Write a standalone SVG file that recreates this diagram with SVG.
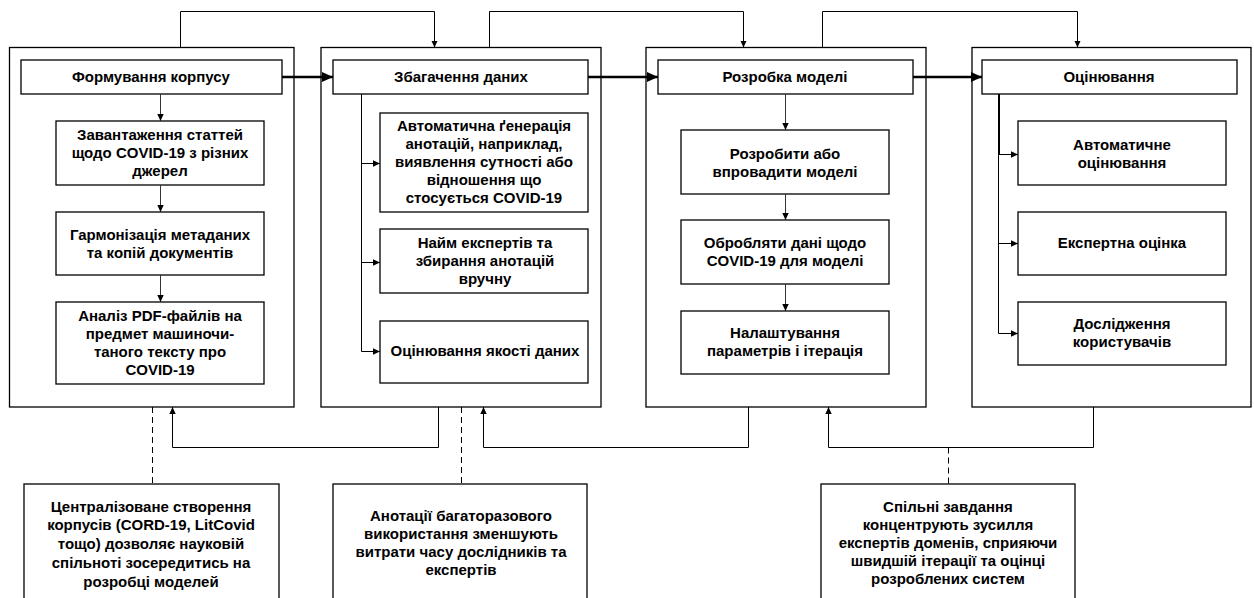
<svg xmlns="http://www.w3.org/2000/svg" width="1254" height="598" viewBox="0 0 1254 598">
<defs>
<marker id="a" markerUnits="userSpaceOnUse" markerWidth="8" markerHeight="8" refX="7" refY="4" orient="auto"><path d="M0,0.8 L7,4 L0,7.2 Z" fill="#000"/></marker>
<marker id="b" markerUnits="userSpaceOnUse" markerWidth="12" markerHeight="12" refX="11" refY="6" orient="auto"><path d="M0,1 L11,6 L0,11 Z" fill="#000"/></marker>
</defs>
<style>
rect{fill:#fff;stroke:#000;stroke-width:1.3}
text{font-family:"Liberation Sans",Arial,sans-serif;font-weight:bold;font-size:15px;text-anchor:middle;fill:#000}
.c{fill:none;stroke:#000;stroke-width:1}
.g{fill:none;stroke:#333;stroke-width:1}
.t{fill:none;stroke:#000;stroke-width:2.5}
.d{fill:none;stroke:#000;stroke-width:1;stroke-dasharray:6,4}
</style>
<g id="stage1">
<rect x="9.5" y="47.5" width="284.5" height="359.5"/>
<rect x="21" y="60" width="261" height="34"/>
<text x="151" y="82">Формування корпусу</text>
</g>
<g id="s1a"><rect x="56" y="121" width="208" height="64"/>
<text x="160" y="140">Завантаження статтей</text><text x="160" y="158">щодо COVID-19 з різних</text><text x="160" y="176">джерел</text></g>
<g id="s1b"><rect x="56" y="212" width="208" height="63"/>
<text x="160" y="240">Гармонізація метаданих</text><text x="160" y="258">та копій документів</text></g>
<g id="s1c"><rect x="56" y="302" width="208" height="82"/>
<text x="160" y="321">Аналіз PDF-файлів на</text><text x="160" y="339">предмет машиночи-</text><text x="160" y="357">таного тексту про</text><text x="160" y="375">COVID-19</text></g>

<g id="stage2">
<rect x="321" y="47.5" width="280" height="359.5"/>
<rect x="333" y="60" width="255" height="34"/>
<text x="461" y="82">Збагачення даних</text>
</g>
<g id="s2a"><rect x="380" y="113" width="208" height="99"/>
<text x="484" y="131">Автоматична ґенерація</text><text x="484" y="149">анотацій, наприклад,</text><text x="484" y="167">виявлення сутності або</text><text x="484" y="185">відношення що</text><text x="484" y="203">стосується COVID-19</text></g>
<g id="s2b"><rect x="380" y="229" width="208" height="64"/>
<text x="485" y="248">Найм експертів та</text><text x="485" y="266">збирання анотацій</text><text x="485" y="284">вручну</text></g>
<g id="s2c"><rect x="380" y="321" width="208" height="62"/>
<text x="485" y="356">Оцінювання якості даних</text></g>

<g id="stage3">
<rect x="646" y="47.5" width="280" height="359.5"/>
<rect x="658" y="60" width="255" height="34"/>
<text x="785" y="82">Розробка моделі</text>
</g>
<g id="s3a"><rect x="681" y="130" width="208" height="64"/>
<text x="785" y="159">Розробити або</text><text x="785" y="177">впровадити моделі</text></g>
<g id="s3b"><rect x="681" y="220" width="208" height="64"/>
<text x="785" y="248">Обробляти дані щодо</text><text x="785" y="266">COVID-19 для моделі</text></g>
<g id="s3c"><rect x="681" y="311" width="208" height="63"/>
<text x="785" y="338">Налаштування</text><text x="785" y="356">параметрів і ітерація</text></g>

<g id="stage4">
<rect x="972" y="47.5" width="279" height="359.5"/>
<rect x="982" y="60" width="255" height="34"/>
<text x="1109" y="82">Оцінювання</text>
</g>
<g id="s4a"><rect x="1018" y="121" width="208" height="64"/>
<text x="1122" y="150">Автоматичне</text><text x="1122" y="168">оцінювання</text></g>
<g id="s4b"><rect x="1018" y="212" width="208" height="63"/>
<text x="1122" y="248">Експертна оцінка</text></g>
<g id="s4c"><rect x="1018" y="302" width="208" height="63"/>
<text x="1122" y="329">Дослідження</text><text x="1122" y="347">користувачів</text></g>

<g id="note1"><rect x="24" y="484" width="255" height="130"/>
<text x="151" y="512">Централізоване створення</text><text x="151" y="530">корпусів (CORD-19, LitCovid</text><text x="151" y="549">тощо) дозволяє науковій</text><text x="151" y="568">спільноті зосередитись на</text><text x="151" y="587">розробці моделей</text></g>
<g id="note2"><rect x="333" y="484" width="254" height="130"/>
<text x="461" y="521">Анотації багаторазового</text><text x="461" y="539">використання зменшують</text><text x="461" y="557">витрати часу дослідників та</text><text x="461" y="575">експертів</text></g>
<g id="note3"><rect x="821" y="484" width="254" height="130"/>
<text x="948" y="512">Спільні завдання</text><text x="948" y="530">концентрують зусилля</text><text x="948" y="548">експертів доменів, сприяючи</text><text x="948" y="566">швидшій ітерації та оцінці</text><text x="948" y="584">розроблених систем</text></g>

<g id="connectors">
<path class="t" d="M282,77 H333" marker-end="url(#b)"/>
<path class="t" d="M588,77 H658" marker-end="url(#b)"/>
<path class="t" d="M913,77 H982" marker-end="url(#b)"/>
<path class="c" d="M180.5,47.5 V11.5 H434.5 V47.5" marker-end="url(#a)"/>
<path class="c" d="M489.5,47.5 V11.5 H743.5 V47.5" marker-end="url(#a)"/>
<path class="c" d="M822.5,47.5 V11.5 H1077.5 V47.5" marker-end="url(#a)"/>
<path class="g" d="M160.5,94 V121" marker-end="url(#a)"/>
<path class="g" d="M160.5,185 V212" marker-end="url(#a)"/>
<path class="g" d="M160.5,275 V302" marker-end="url(#a)"/>
<path class="c" d="M361.5,94 V351.5"/>
<path class="c" d="M361.5,163.5 H380" marker-end="url(#a)"/>
<path class="c" d="M361.5,262.5 H380" marker-end="url(#a)"/>
<path class="c" d="M361.5,351.5 H380" marker-end="url(#a)"/>
<path class="g" d="M785.5,94 V130" marker-end="url(#a)"/>
<path class="g" d="M785.5,194 V220" marker-end="url(#a)"/>
<path class="g" d="M785.5,284 V311" marker-end="url(#a)"/>
<path class="c" d="M998.5,94 V333.5"/>
<path class="c" d="M999.5,94 V154"/>
<path class="c" d="M998.5,154.5 H1018" marker-end="url(#a)"/>
<path class="c" d="M998.5,243.5 H1018" marker-end="url(#a)"/>
<path class="c" d="M998.5,333.5 H1018" marker-end="url(#a)"/>
<path class="c" d="M438.5,407 V447.5 H172.5 V407" marker-end="url(#a)"/>
<path class="c" d="M748.5,407 V447.5 H483.5 V407" marker-end="url(#a)"/>
<path class="c" d="M1093.5,407 V447.5 H828.5 V407" marker-end="url(#a)"/>
<path class="d" d="M152.5,407 V484"/>
<path class="d" d="M461.5,407 V484"/>
<path class="d" d="M948.5,447.5 V484"/>
</g>
</svg>
